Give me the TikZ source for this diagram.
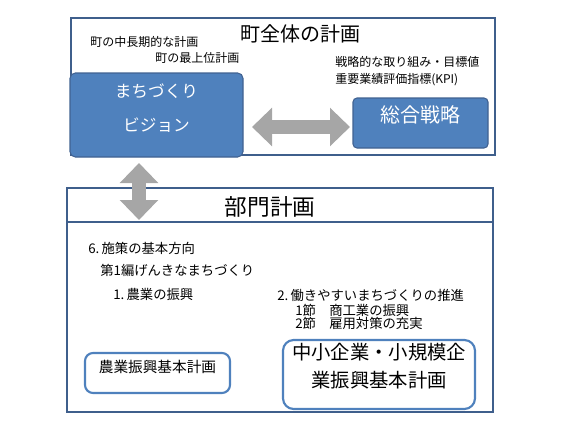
\documentclass[tikz,border=0pt]{standalone}
\usepackage{fontspec}
\setmainfont{Noto Sans CJK JP}
\usetikzlibrary{arrows.meta, positioning, fit, calc}
\definecolor{boxblue}{HTML}{4F81BD}
\definecolor{frameblue}{HTML}{3F5F8C}
\definecolor{arrowgray}{HTML}{A6A6A6}
\tikzset{
  frame/.style = {draw=frameblue, line width=1.5pt, inner sep=0pt},
  bluebox/.style = {draw=frameblue!90!boxblue, fill=boxblue, line width=0.8pt, rounded corners=3pt, inner sep=0pt, text=white, align=center},
  planbox/.style = {draw=boxblue, fill=white, line width=1.6pt, rounded corners=6pt, inner sep=0pt, align=center},
  note/.style = {anchor=west, inner sep=0pt, font=\fontsize{9}{11}\selectfont},
  item/.style = {anchor=west, inner sep=0pt, font=\fontsize{10}{12}\selectfont},
  biarrow/.style = {draw=arrowgray, line width=10pt, {Triangle[length=15pt, width=28pt]}-{Triangle[length=15pt, width=28pt]}}
}

\begin{document}
\begin{tikzpicture}[x=0.75pt, y=-0.75pt]
		\useasboundingbox (0,0) rectangle (576,432);
		% whole town plan
		\node[frame, fit={(71,18) (495,155)}] (TOWN) {};
		\node[font=\fontsize{15}{18}\selectfont] (TTL) at (300,34) {町全体の計画};
		\node[note] (mid) at (90,42) {町の中長期的な計画};
		\node[note] (top) at (155,58) {町の最上位計画};
		\node[note] (kpi1) at (335,62) {戦略的な取り組み・目標値};
		\node[note] (kpi2) at (335,80) {重要業績評価指標(KPI)};

		\node[bluebox, rounded corners=4pt, fit={(70,73) (243,157)}, font=\fontsize{12.5}{26}\selectfont] (VIS) {まちづくり\\ビジョン};
		\node[bluebox, fit={(353,98) (488,148)}, font=\fontsize{15}{18}\selectfont] (SOG) {総合戦略};

		% sector plans
		\node[frame, fit={(67,188) (493,412)}] (SEC) {};
		\coordinate (sepL) at (67,222);
		\coordinate (sepR) at (493,222);
		\draw[draw=frameblue, line width=0.8pt] (sepL) -- (sepR);
		\node[font=\fontsize{17}{20}\selectfont] (STL) at (270,207) {部門計画};

		\node[item] (dir) at (88,248) {6.\,施策の基本方向};
		\node[item] (ed1) at (100,270) {第1編げんきなまちづくり};
		\node[item] (agr) at (113,294) {1.\,農業の振興};
		\node[item] (wrk) at (277,295) {2.\,働きやすいまちづくりの推進};
		\node[item] (sc1) at (295,310) {1節　商工業の振興};
		\node[item] (sc2) at (295,323) {2節　雇用対策の充実};

		\node[planbox, fit={(85,353) (230,393)}, font=\fontsize{11}{13}\selectfont] (AGP) {農業振興基本計画};
		\node[planbox, rounded corners=8pt, fit={(283,340) (475,409)}, font=\fontsize{14.5}{21}\selectfont] (SMP) {中小企業・小規模企\\業振興基本計画};

		% links
		\coordinate (hL) at (252,127);
		\coordinate (hR) at (350,127);
		\coordinate (vT) at (139,163);
		\coordinate (vB) at (139,220);
		\draw[biarrow] (hL) -- (hR);
		\draw[biarrow] (vT) -- (vB);
	\end{tikzpicture}
\end{document}
